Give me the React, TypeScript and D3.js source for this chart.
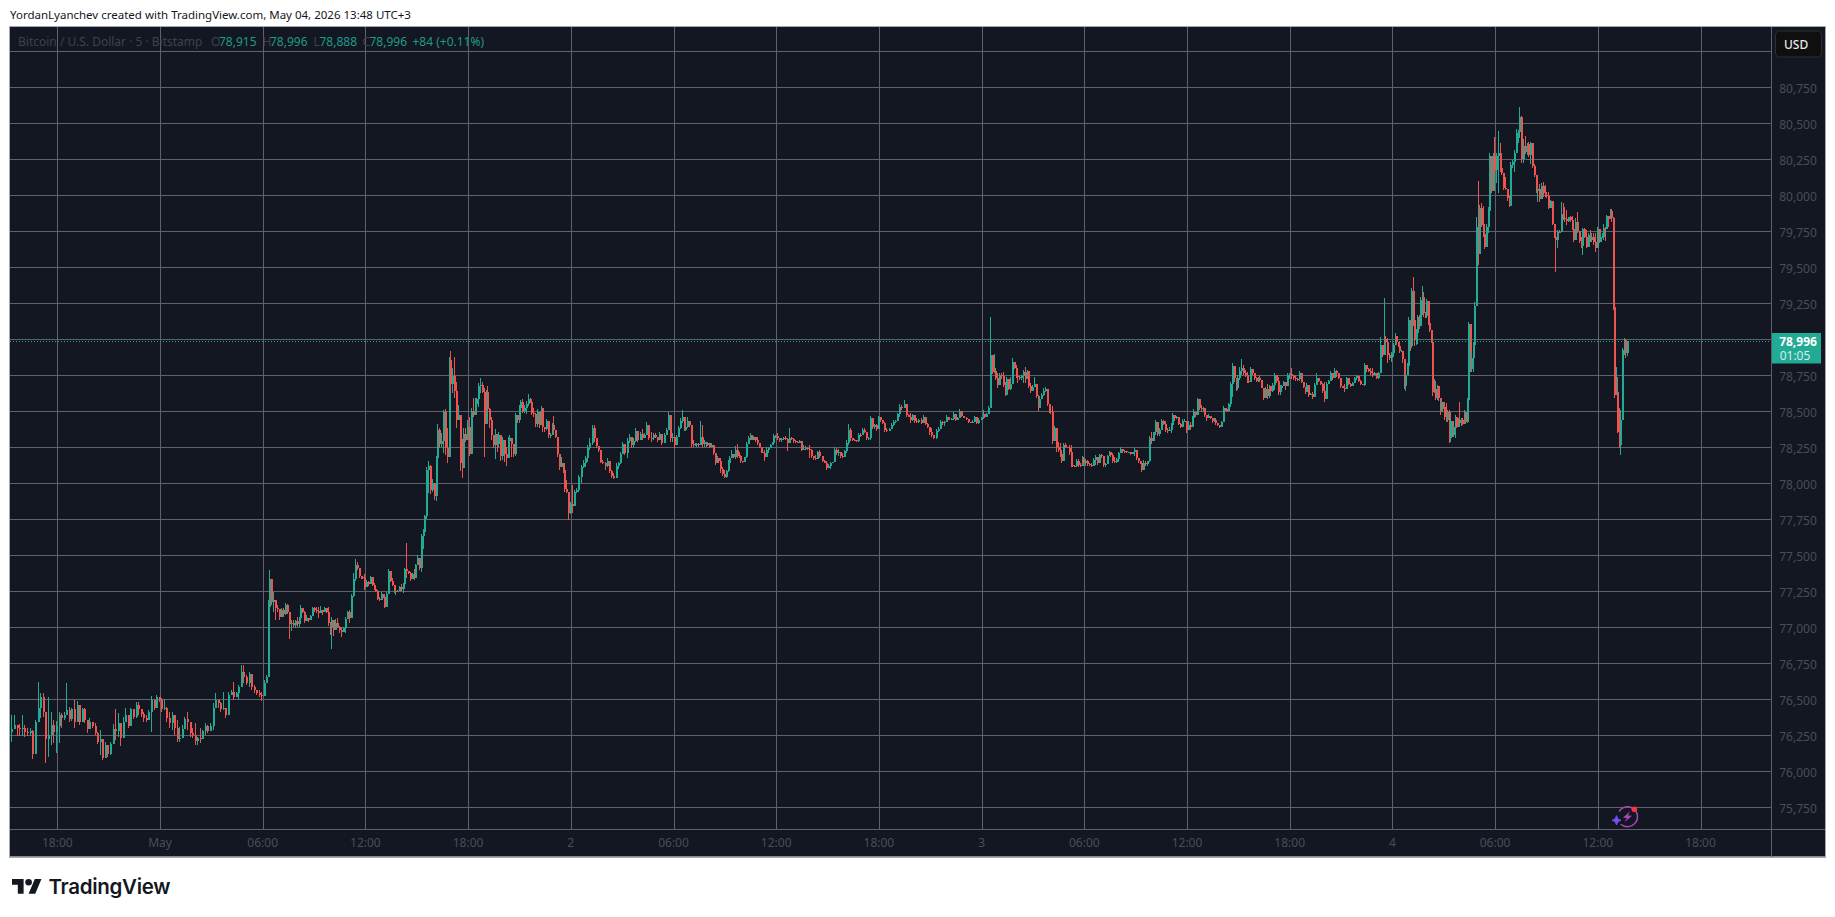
import React from "react";
import * as d3 from "d3";

// Each bar: [high, low, close]; the open is the previous close.
const apr30Late = [[76398,76213,76300],[76398,76306,76330],[76330,76250,76310],[76335,76250,76300],[76395,76250,76310],[76330,76245,76280],[76306,76250,76270],[76306,76250,76290],[76294,76090,76130],[76363,76213,76350],[76630,76410,76450],[76550,76375,76520],[76550,76387,76420],[76329,76062,76230],[76525,76109,76260],[76421,76190,76330],[76363,76201,76280],[76358,76132,76320]];
const apr30Evening = [[76421,76201,76400],[76410,76306,76380],[76421,76363,76400],[76618,76410,76430],[76456,76352,76370],[76450,76355,76440],[76500,76306,76350],[76497,76363,76470],[76444,76329,76350],[76450,76363,76440],[76444,76340,76360],[76363,76276,76300],[76375,76306,76350],[76352,76306,76320],[76340,76259,76275],[76282,76195,76210],[76294,76120,76230],[76132,76086,76100],[76213,76132,76190],[76190,76109,76125],[76213,76120,76200],[76335,76225,76300],[76440,76225,76290],[76410,76248,76340],[76340,76183,76240],[76387,76282,76350],[76444,76375,76400],[76375,76306,76325],[76450,76363,76440],[76433,76370,76385],[76491,76380,76470],[76485,76398,76440],[76440,76387,76405],[76421,76352,76375],[76398,76352,76365],[76433,76375,76420],[76530,76282,76500],[76479,76433,76450],[76537,76479,76520],[76515,76490,76505]];
const may1Night = [[76514,76421,76440],[76507,76433,76450],[76456,76352,76380],[76421,76306,76340],[76421,76294,76400],[76398,76259,76310],[76363,76213,76230],[76317,76213,76240],[76329,76236,76300],[76387,76329,76370],[76421,76294,76350],[76340,76248,76270],[76306,76236,76260],[76340,76190,76220],[76248,76190,76240],[76306,76201,76230],[76294,76259,76285],[76340,76259,76320],[76329,76271,76285],[76340,76294,76325],[76479,76294,76450],[76549,76444,76500],[76502,76444,76480],[76491,76421,76440],[76560,76433,76450],[76444,76375,76400],[76560,76467,76540],[76572,76537,76555],[76630,76502,76520],[76560,76537,76550],[76607,76502,76590],[76745,76641,76700],[76745,76618,76660],[76676,76607,76620],[76700,76595,76680],[76618,76572,76590],[76607,76549,76570],[76572,76537,76550],[76572,76526,76540],[76560,76495,76530]];
const may1Morning = [[76641,76537,76620],[76676,76620,76660],[77197,76692,77150],[77405,77162,77340],[77324,77162,77180],[77255,77110,77200],[77162,77058,77140],[77162,77116,77135],[77127,77058,77080],[77139,77081,77130],[77139,77081,77100],[77174,77093,77160],[77168,77100,77110],[77116,76926,77030],[77058,76984,77040],[77058,77012,77020],[77058,77000,77050],[77081,77012,77030],[77081,77012,77070],[77162,77081,77140],[77139,77104,77115],[77120,77035,77050],[77093,77058,77075],[77069,77046,77060],[77093,77069,77085],[77150,77093,77140],[77145,77116,77130],[77150,77104,77120],[77150,77069,77105],[77155,77108,77125],[77116,77093,77110],[77150,77127,77140],[77130,77104,77115],[77145,77015,77040],[77046,76954,77000],[77081,76856,77060],[77012,76950,76990],[77065,76988,77040],[77069,77000,77010],[77015,76970,76990],[77012,76942,76975],[77012,76977,77000],[77081,76970,77065],[77123,77081,77110],[77127,77040,77075],[77238,77116,77225],[77382,77220,77340],[77482,77331,77440],[77463,77405,77420],[77421,77347,77365],[77363,77343,77355],[77363,77340,77350],[77377,77266,77290]];
const may1Midday = [[77336,77299,77320],[77331,77294,77310],[77363,77308,77355],[77312,77294,77300],[77312,77266,77275],[77266,77255,77260],[77266,77197,77205],[77215,77192,77200],[77255,77201,77240],[77231,77208,77215],[77215,77139,77150],[77255,77146,77240],[77410,77262,77395],[77398,77324,77330],[77352,77294,77300],[77299,77243,77250],[77266,77231,77260],[77266,77255,77258],[77294,77266,77285],[77308,77262,77270],[77317,77248,77310],[77421,77317,77410],[77590,77347,77400],[77398,77375,77385],[77391,77329,77345],[77387,77340,77380],[77410,77336,77350],[77450,77387,77440],[77507,77440,77490],[77463,77405,77420],[77655,77393,77640],[77688,77553,77670],[77787,77741,77780]];
const may1Rally = [[78118,77759,78100],[78162,77937,78130],[78134,77933,77960],[78035,77949,78010],[77995,77891,77920],[78197,77886,78180],[78419,78197,78380],[78389,78254,78280],[78354,78262,78300],[78516,78215,78500],[78521,78204,78250],[78389,78146,78190],[78887,78312,78860],[78926,78632,78700],[78806,78632,78750],[78887,78597,78650],[78713,78389,78450],[78551,78458,78480],[78389,78095,78150],[78312,78042,78110],[78389,78146,78350],[78389,78296,78310],[78447,78319,78400]];
const may1Evening = [[78470,78197,78210],[78528,78296,78510],[78597,78465,78480],[78597,78516,78560],[78597,78528,78590],[78701,78535,78680],[78736,78632,78690],[78713,78632,78640],[78667,78192,78420],[78655,78447,78640],[78683,78505,78520],[78528,78389,78450],[78470,78308,78340],[78343,78250,78270],[78384,78176,78350],[78343,78227,78280],[78366,78262,78340],[78262,78164,78200],[78331,78169,78310],[78273,78157,78210],[78262,78127,78180],[78326,78192,78300],[78343,78262,78320],[78319,78192,78280],[78234,78192,78210],[78498,78197,78480],[78458,78424,78445],[78551,78424,78530],[78586,78493,78570],[78590,78493,78510],[78551,78493,78530],[78579,78488,78560],[78625,78544,78590],[78597,78563,78575],[78539,78482,78495],[78528,78470,78490],[78493,78400,78420],[78521,78400,78500],[78458,78389,78410],[78544,78458,78530],[78528,78366,78400],[78400,78366,78385],[78451,78377,78440],[78359,78319,78340],[78354,78319,78345],[78424,78343,78415],[78475,78354,78380],[78354,78319,78330],[78296,78192,78210],[78197,78100,78120],[78192,78134,78150],[78146,78076,78100],[78076,77949,77970],[78030,77937,77950],[77949,77752,77800],[77880,77794,77860]];
const may2Night = [[77995,77799,77850],[77961,77903,77950],[77972,77937,77960],[78065,77949,78050],[78134,78007,78120],[78169,78111,78150],[78197,78123,78180],[78273,78157,78250],[78319,78238,78290],[78412,78273,78390],[78412,78296,78320],[78285,78250,78265],[78266,78227,78235],[78181,78146,78155],[78169,78141,78150],[78157,78100,78125],[78181,78118,78160],[78134,78076,78090],[78100,78042,78060],[78076,78037,78045],[78146,78058,78130],[78157,78104,78145],[78227,78141,78210],[78296,78227,78280],[78262,78204,78215],[78319,78181,78300],[78350,78285,78330],[78331,78250,78270],[78319,78250,78300],[78389,78296,78370],[78354,78296,78310],[78366,78308,78350],[78384,78308,78320],[78354,78319,78345],[78431,78343,78410],[78366,78308,78325],[78366,78296,78320],[78354,78308,78340],[78354,78319,78330],[78331,78296,78305],[78366,78319,78350],[78343,78273,78290],[78354,78285,78340],[78389,78354,78380],[78500,78389,78480],[78447,78296,78320],[78354,78296,78330]];
const may2Morning = [[78296,78250,78275],[78343,78285,78330],[78405,78343,78390],[78458,78382,78440],[78516,78424,78470],[78400,78370,78380],[78412,78370,78395],[78465,78389,78440],[78442,78400,78410],[78412,78262,78280],[78308,78262,78270],[78290,78266,78275],[78285,78262,78280],[78285,78262,78270],[78440,78308,78330],[78412,78262,78280],[78308,78262,78295],[78296,78262,78275],[78296,78266,78290],[78289,78250,78262],[78285,78262,78275],[78243,78204,78215],[78204,78134,78150],[78197,78146,78185],[78181,78146,78165],[78181,78076,78105],[78123,78058,78075],[78100,78042,78050],[78100,78042,78090],[78169,78088,78150],[78197,78134,78185],[78238,78181,78210],[78204,78181,78190],[78266,78176,78240],[78280,78181,78200],[78227,78181,78195],[78204,78150,78165],[78162,78150,78155],[78192,78181,78188],[78296,78185,78280],[78338,78296,78320],[78359,78308,78345],[78312,78308,78310],[78336,78308,78330],[78331,78296,78305],[78331,78273,78285],[78285,78250,78260],[78250,78215,78225],[78231,78215,78220],[78238,78164,78190],[78257,78204,78240],[78257,78215,78250],[78280,78250,78270],[78296,78280,78290],[78347,78296,78335],[78343,78319,78335]];
const may2Afternoon = [[78359,78308,78325],[78319,78296,78305],[78319,78296,78315],[78331,78308,78320],[78336,78308,78315],[78324,78231,78290],[78394,78308,78320],[78331,78308,78315],[78324,78289,78300],[78308,78285,78295],[78303,78285,78290],[78308,78289,78300],[78285,78231,78240],[78273,78238,78245],[78266,78238,78255],[78262,78238,78245],[78273,78181,78240],[78243,78181,78200],[78197,78169,78185],[78204,78169,78175],[78231,78204,78225],[78238,78181,78195],[78169,78157,78160],[78169,78146,78150],[78162,78100,78110],[78141,78111,78125],[78157,78106,78150],[78157,78146,78152],[78257,78157,78240],[78255,78204,78215],[78243,78199,78225],[78227,78185,78195],[78215,78185,78190],[78238,78215,78230],[78308,78220,78290],[78417,78273,78380],[78389,78303,78320],[78312,78303,78308],[78312,78303,78305],[78308,78296,78300],[78359,78296,78345],[78354,78331,78340],[78389,78343,78380],[78394,78354,78360],[78336,78308,78320],[78331,78308,78325],[78472,78308,78460],[78444,78382,78400],[78419,78382,78415],[78419,78373,78385],[78475,78417,78465]];
const may2Evening = [[78470,78431,78450],[78440,78417,78425],[78435,78366,78375],[78389,78366,78372],[78394,78373,78385],[78424,78389,78415],[78447,78405,78435],[78447,78424,78440],[78498,78458,78485],[78558,78465,78540],[78551,78516,78530],[78586,78535,78560],[78539,78465,78480],[78488,78465,78470],[78493,78428,78445],[78488,78442,78480],[78451,78428,78440],[78458,78424,78435],[78451,78428,78445],[78458,78417,78425],[78482,78424,78470],[78428,78412,78420],[78424,78389,78395],[78393,78343,78360],[78389,78331,78345],[78343,78315,78322],[78382,78315,78370],[78396,78366,78385],[78447,78396,78435],[78442,78412,78425],[78442,78405,78430],[78482,78435,78470],[78465,78447,78450],[78458,78447,78452],[78500,78447,78490],[78465,78442,78450],[78470,78447,78460],[78525,78458,78510],[78498,78465,78475],[78475,78458,78462],[78470,78447,78452],[78451,78428,78435],[78431,78426,78428],[78447,78426,78432],[78475,78435,78465],[78447,78419,78425],[78458,78419,78450],[78465,78447,78460]];
const may3Night = [[78516,78451,78490],[78481,78458,78465],[78493,78475,78485],[78544,78488,78530],[79160,78535,78895],[78898,78766,78780],[78903,78771,78790],[78806,78725,78740],[78771,78667,78690],[78771,78706,78760],[78771,78729,78750],[78782,78674,78690],[78713,78613,78620],[78748,78620,78730],[78701,78655,78665],[78748,78655,78700],[78875,78697,78850],[78840,78799,78810],[78829,78736,78750],[78759,78701,78745],[78752,78725,78735],[78759,78725,78750],[78794,78701,78780],[78813,78701,78730],[78794,78771,78785],[78713,78667,78680],[78701,78632,78650],[78690,78655,78675],[78748,78683,78700],[78690,78597,78610],[78620,78509,78530],[78604,78581,78590],[78632,78590,78620],[78667,78613,78650],[78674,78644,78660],[78655,78544,78560],[78551,78493,78510],[78551,78488,78500],[78544,78280,78300],[78405,78331,78390],[78389,78227,78260],[78296,78227,78240],[78289,78192,78210],[78238,78146,78160],[78285,78238,78270],[78285,78250,78262],[78262,78250,78255],[78273,78204,78225],[78273,78123,78135],[78197,78123,78130],[78134,78118,78125],[78174,78118,78165],[78174,78118,78135],[78150,78123,78130],[78197,78127,78185],[78187,78134,78145]];
const may3Morning = [[78174,78127,78160],[78169,78127,78140],[78146,78127,78135],[78146,78118,78125],[78181,78127,78170],[78204,78134,78190],[78181,78134,78145],[78211,78181,78205],[78211,78181,78195],[78181,78123,78135],[78146,78123,78140],[78204,78169,78195],[78234,78211,78225],[78220,78192,78205],[78215,78150,78160],[78192,78150,78155],[78181,78150,78175],[78227,78157,78215],[78257,78220,78245],[78243,78220,78230],[78238,78220,78228],[78227,78220,78222],[78227,78220,78225],[78227,78204,78212],[78227,78211,78222],[78250,78197,78240],[78215,78169,78180],[78181,78150,78160],[78157,78141,78150],[78150,78088,78100],[78169,78104,78150],[78164,78127,78140],[78164,78127,78160],[78336,78157,78320],[78366,78280,78300],[78366,78336,78360],[78447,78343,78430],[78412,78336,78350],[78389,78336,78375],[78451,78389,78440],[78447,78412,78420],[78442,78366,78380],[78389,78359,78370],[78396,78373,78380],[78424,78354,78410],[78498,78424,78480],[78470,78440,78460],[78475,78451,78465],[78435,78412,78420],[78424,78389,78400],[78451,78424,78440],[78451,78435,78442],[78435,78354,78380]];
const may3Afternoon = [[78442,78377,78410],[78435,78377,78395],[78475,78405,78460],[78520,78458,78505],[78504,78470,78480],[78597,78504,78590],[78585,78516,78530],[78551,78504,78520],[78535,78504,78530],[78528,78470,78480],[78481,78442,78460],[78488,78465,78475],[78470,78451,78460],[78458,78424,78440],[78458,78435,78445],[78458,78412,78425],[78419,78405,78410],[78412,78389,78395],[78440,78400,78430],[78546,78435,78530],[78528,78512,78520],[78516,78504,78510],[78567,78512,78560],[78713,78539,78700],[78840,78609,78820],[78789,78713,78740],[78736,78650,78670],[78759,78655,78740],[78817,78725,78790],[78870,78759,78810],[78827,78759,78775],[78792,78746,78760],[78780,78701,78715],[78725,78706,78712],[78817,78729,78800],[78792,78759,78775],[78759,78725,78735],[78743,78713,78720],[78743,78713,78735],[78759,78713,78725],[78678,78667,78672],[78667,78586,78600],[78678,78620,78660],[78697,78590,78610],[78690,78597,78680],[78667,78632,78650],[78701,78644,78690],[78775,78655,78760],[78748,78701,78720],[78748,78620,78640],[78690,78620,78670],[78690,78655,78680],[78720,78690,78710],[78706,78655,78680],[78771,78701,78760],[78775,78729,78765]];
const may3Evening = [[78806,78729,78750],[78759,78725,78740],[78759,78720,78730],[78736,78720,78728],[78787,78720,78775],[78713,78706,78710],[78697,78667,78675],[78667,78627,78640],[78701,78678,78690],[78690,78609,78620],[78632,78620,78625],[78644,78590,78605],[78701,78644,78690],[78775,78706,78740],[78729,78713,78720],[78713,78690,78700],[78701,78632,78645],[78713,78570,78590],[78713,78644,78700],[78725,78713,78720],[78787,78725,78770],[78759,78725,78735],[78805,78736,78790],[78792,78743,78770],[78752,78729,78735],[78741,78671,78685],[78678,78667,78672],[78697,78644,78660],[78748,78690,78735],[78713,78690,78700],[78701,78678,78685],[78713,78690,78705],[78748,78713,78740],[78759,78725,78750],[78729,78713,78720],[78725,78690,78700],[78697,78690,78693],[78845,78683,78830],[78829,78782,78800],[78805,78782,78790],[78805,78759,78770],[78805,78748,78760],[78782,78759,78775],[78771,78729,78735],[78782,78729,78770],[79025,78782,78970],[78968,78887,78900],[79292,78933,79010],[79030,78975,78985],[79014,78840,78900],[78910,78863,78880],[78921,78852,78915]];
const may4Night = [[78979,78882,78970],[79049,78975,79030],[79014,78968,78985],[78979,78951,78960],[78951,78914,78925],[78933,78919,78928],[78926,78840,78870],[78868,78662,78680],[78766,78650,78760],[78840,78759,78825],[79164,78822,79140],[79106,78926,78960],[79361,78944,79340],[79437,79100,79140],[79199,78961,79000],[79076,78968,79050],[79176,78975,79160],[79176,79076,79100],[79299,79141,79280],[79377,79176,79300],[79338,79164,79190],[79199,79153,79170],[79285,79153,79270],[79264,79106,79120],[79130,79060,79075],[79044,78979,78990],[78984,78613,78640],[78729,78632,78660],[78718,78586,78600],[78690,78586,78680],[78678,78581,78600],[78581,78481,78500],[78586,78521,78575],[78574,78521,78535],[78562,78447,78470],[78562,78435,78450],[78516,78435,78500],[78516,78289,78320],[78458,78296,78440],[78424,78331,78345],[78424,78331,78400],[78481,78324,78470],[78405,78389,78395],[78458,78396,78450],[78569,78405,78425],[78458,78405,78450],[78458,78412,78420],[78516,78442,78505],[78442,78419,78430],[78597,78424,78585],[79130,78597,79110],[78961,78782,78800],[78910,78782,78880],[78991,78782,78970],[79268,78949,79240]];
const may4Jump = [[79859,79238,79790],[80106,79523,79600],[79940,79715,79920],[79951,79789,79800],[79933,79720,79740],[79808,79632,79650],[79808,79697,79790],[79928,79743,79900],[80299,80021,80280],[80183,80025,80040],[80299,80102,80280],[80414,80164,80180]];
const may4Morning = [[80299,80090,80280],[80456,80021,80300],[80368,80171,80200],[80264,80148,80160],[80160,80044,80060],[80137,80044,80050],[80049,79970,79985],[80009,79924,79935],[80236,79970,80220],[80252,80194,80240],[80322,80171,80300],[80468,80310,80440],[80461,80368,80450],[80618,80403,80550],[80558,80234,80260],[80396,80229,80350],[80419,80294,80305],[80368,80287,80360],[80380,80275,80290],[80380,80224,80370],[80356,80199,80210],[80224,80137,80145],[80148,80025,80040],[80067,79963,80050],[80086,79963,79980],[80090,80032,80075],[80102,79998,80020],[80079,79998,80010],[80032,79986,80000],[80032,79910,79920],[79974,79917,79965],[79905,79801,79810],[79808,79708,79715],[79708,79477,79700],[79766,79639,79755],[79766,79743,79750],[79963,79755,79880],[79951,79836,79850],[79928,79824,79840],[79905,79801,79830],[79859,79824,79855],[79863,79824,79835],[79863,79766,79775],[79778,79685,79700],[79847,79720,79820],[79893,79743,79760],[79731,79674,79690],[79720,79639,79655],[79778,79592,79770],[79778,79708,79715],[79766,79639,79650],[79743,79685,79730],[79766,79685,79700],[79743,79685,79720],[79743,79662,79680],[79743,79616,79640],[79785,79639,79770]];
const may4Drop = [[79743,79673,79680],[79743,79708,79715],[79743,79708,79720],[79808,79697,79780],[79789,79692,79775],[79870,79789,79860],[79859,79789,79845],[79910,79847,79900],[79910,79824,79850],[79859,79211,79230],[79211,78597,78620],[78817,78632,78640],[78748,78354,78360],[78528,78250,78270],[78516,78204,78450],[78944,78447,78930],[79014,78898,79000],[79010,78880,78915],[78996,78888,78996]];

const segmentStarts = ["2026-04-30T15:14Z","2026-04-30T18:00Z","2026-05-01T00:00Z","2026-05-01T06:00Z","2026-05-01T12:00Z","2026-05-01T15:30Z","2026-05-01T18:00Z","2026-05-02T00:00Z","2026-05-02T06:00Z","2026-05-02T12:00Z","2026-05-02T18:00Z","2026-05-03T00:00Z","2026-05-03T06:00Z","2026-05-03T12:00Z","2026-05-03T18:00Z","2026-05-04T00:00Z","2026-05-04T04:50Z","2026-05-04T06:00Z","2026-05-04T12:00Z"];
const segmentEnd = "2026-05-04T13:44Z";
const segmentBars = [apr30Late,apr30Evening,may1Night,may1Morning,may1Midday,may1Rally,may1Evening,may2Night,may2Morning,may2Afternoon,may2Evening,may3Night,may3Morning,may3Afternoon,may3Evening,may4Night,may4Jump,may4Morning,may4Drop];

const timeTickLabels = ["18:00","May","06:00","12:00","18:00","2","06:00","12:00","18:00","3","06:00","12:00","18:00","4","06:00","12:00","18:00"];
const priceStart = 75750, priceEnd = 81000, priceStep = 250;
const lastPrice = 78996;
const titleText = "YordanLyanchev created with TradingView.com, May 04, 2026 13:48 UTC+3";
const legendName = "Bitcoin / U.S. Dollar · 5 · Bitstamp";
const legendO = "78,915", legendH = "78,996", legendL = "78,888", legendC = "78,996", legendChange = "+84 (+0.11%)";
const countdown = "01:05";

const BG = "#131722", GRID = "#5f626d", FRAME = "#a5a8b0", UP = "#22ab94", DOWN = "#ef5350", AXIS = "#4a4d56", DIM = "#3f424b";
const FONT = "'Noto Sans', sans-serif";
const left = 10, right = 1771, top = 27, axisY = 829, bottom = 856.5, frameRight = 1825;

export default function App() {
  const x = d3.scaleUtc().domain([new Date("2026-04-30T18:00Z"), new Date("2026-05-04T18:00Z")]).range([57.3, 1700.5]);
  const y = d3.scaleLinear().domain([priceStart, priceEnd]).range([808.3, 52.3]);
  const snap = (v: number) => Math.round(v) + 0.5;

  const bars: { t: Date; o: number; h: number; l: number; c: number }[] = [];
  let prev = 76280;
  segmentBars.forEach((seg, s) => {
    const a = +new Date(segmentStarts[s]);
    const b = +new Date(s + 1 < segmentStarts.length ? segmentStarts[s + 1] : segmentEnd);
    seg.forEach((d, i) => {
      const [h, l, c] = d;
      bars.push({ t: new Date(a + ((i + 0.5) / seg.length) * (b - a)), o: prev, h: Math.max(h, prev, c), l: Math.min(l, prev, c), c });
      prev = c;
    });
  });

  const priceTicks = d3.range(priceStart, priceEnd + 1, priceStep);
  const timeTicks = timeTickLabels.map((label, i) => ({ label, t: d3.utcHour.offset(new Date("2026-04-30T18:00Z"), i * 6) }));
  const fmt = d3.format(",");
  const lastY = y(lastPrice);

  return (
    <svg width={1835} height={917} style={{ position: "absolute", left: 0, top: 0, display: "block", background: "#fff" }} fontFamily={FONT}>
      <text x={10} y={18.5} fontSize={11.5} fill="#131722">{titleText}</text>
      <rect x={left} y={top} width={frameRight - left} height={bottom - top} fill={BG} />
      <defs>
        <clipPath id="plot"><rect x={left} y={top} width={right - left} height={axisY - top} /></clipPath>
      </defs>
      <g stroke={GRID} strokeWidth={1} shapeRendering="crispEdges">
        {priceTicks.map((p) => <line key={p} x1={left} x2={right} y1={snap(y(p)) - 1} y2={snap(y(p)) - 1} />)}
        {timeTicks.map((d, i) => <line key={i} x1={snap(x(d.t))} x2={snap(x(d.t))} y1={top} y2={axisY} />)}
      </g>
      <g fontSize={12}>
        <text x={18} y={45.5} fill={DIM}>{legendName}</text>
        <text x={211} y={45.5} fill={DIM}>O</text>
        <text x={219} y={45.5} fill="#1f9a87">{legendO}</text>
        <text x={262.5} y={45.5} fill={DIM}>H</text>
        <text x={270} y={45.5} fill="#1f9a87">{legendH}</text>
        <text x={313.5} y={45.5} fill={DIM}>L</text>
        <text x={319.5} y={45.5} fill="#1f9a87">{legendL}</text>
        <text x={362.5} y={45.5} fill={DIM}>C</text>
        <text x={369.5} y={45.5} fill="#1f9a87">{legendC}</text>
        <text x={412.5} y={45.5} fill="#1f9a87">{legendChange}</text>
      </g>
      <g clipPath="url(#plot)">
        <g shapeRendering="crispEdges">
          {bars.map((b, i) => {
            const color = b.c >= b.o ? UP : DOWN;
            const px = Math.round(x(b.t));
            const yTop = y(Math.max(b.o, b.c)), yBot = y(Math.min(b.o, b.c));
            return (
              <g key={i} fill={color}>
                <rect x={px} y={y(b.h)} width={1} height={y(b.l) - y(b.h)} />
                <rect x={px} y={yTop} width={2} height={Math.max(1, yBot - yTop)} />
              </g>
            );
          })}
        </g>
        <line x1={left} x2={right} y1={snap(lastY)} y2={snap(lastY)} stroke={UP} strokeWidth={1} strokeDasharray="1 2" shapeRendering="crispEdges" />
        <g transform="translate(1627.5,816.7)">
          <path d="M -8.4 -5.4 A 10 10 0 1 1 -6.6 7.5" fill="none" stroke="#ab47bc" strokeWidth={1.4} />
          <path d="M 2.5 -5.5 L -4.5 1 L -0.5 1.2 L -3 5.5 L 4.5 -1 L 0.5 -1.2 Z" fill="#ab47bc" />
          <path d="M -11 -1 Q -10.6 3.2 -6.5 3.6 Q -10.6 4 -11 8.2 Q -11.4 4 -15.5 3.6 Q -11.4 3.2 -11 -1 Z" fill="#7c4dff" stroke="#7c4dff" strokeWidth={1} />
          <circle cx={6.8} cy={-7.4} r={2.8} fill="#f23645" />
        </g>
      </g>
      <g stroke={FRAME} strokeWidth={1} fill="none" shapeRendering="crispEdges">
        <rect x={left - 0.5} y={top - 0.5} width={frameRight - left + 1} height={bottom - top + 1} />
      </g>
      <g stroke={GRID} strokeWidth={1} shapeRendering="crispEdges">
        <line x1={left} x2={frameRight} y1={axisY + 0.5} y2={axisY + 0.5} />
        <line x1={right + 0.5} x2={right + 0.5} y1={top} y2={bottom} />
      </g>
      <g fontSize={12} fill={AXIS} textAnchor="middle">
        {priceTicks.filter((p) => p < priceEnd).map((p) => <text key={p} x={1798} y={y(p) + 4.5}>{fmt(p)}</text>)}
        {timeTicks.map((d, i) => <text key={i} x={x(d.t)} y={847}>{d.label}</text>)}
      </g>
      <rect x={1775.5} y={31} width={46} height={26} rx={4} fill="#0f0f0f" stroke="#2e2e2e" />
      <text x={1784} y={48.5} fontSize={12} fill="#e8e8e8" fontWeight={500}>USD</text>
      <rect x={1772} y={333} width={49} height={30.5} fill={UP} />
      <text x={1798} y={345.5} fontSize={12} fontWeight={700} fill="#fff" textAnchor="middle">{fmt(lastPrice)}</text>
      <text x={1795} y={359.5} fontSize={12} fill="#d5efe9" textAnchor="middle">{countdown}</text>
      <g transform="translate(12,875.6) scale(0.83)" fill="#131722">
        <path d="M14 22H7V11H0V4h14v18zM28 22h-8l7.5-18h8L28 22z" />
        <circle cx={20} cy={8} r={4} />
      </g>
      <text x={48.5} y={893.5} fontFamily="Inter, sans-serif" fontSize={20.5} fontWeight={600} fill="#131722" letterSpacing={-0.3}>TradingView</text>
    </svg>
  );
}
